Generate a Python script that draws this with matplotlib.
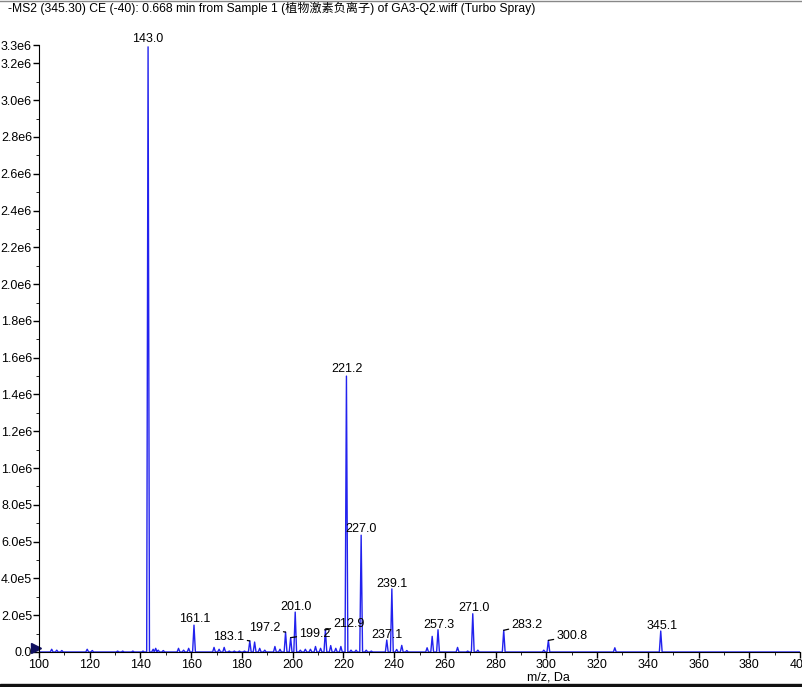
import numpy as np
import matplotlib.pyplot as plt
from matplotlib.ticker import FixedLocator, MultipleLocator, FuncFormatter

plt.rcParams['font.family'] = ['Liberation Sans', 'Noto Sans CJK SC', 'DejaVu Sans']

# Peak list (m/z, intensity in counts)
peak_mz = [105, 107, 109, 119, 121, 131, 133, 137, 141, 143.0, 145, 146, 147, 149,
           155, 157, 159, 161.1, 169, 171, 173, 175, 177, 179, 181, 183.1, 185, 187,
           189, 193, 195, 197.2, 199.2, 201.0, 203, 205, 207, 209, 211, 212.9, 215,
           217, 219, 221.2, 223, 225, 227.0, 229, 231, 237.1, 239.1, 241, 243, 245,
           253, 255, 257.3, 265, 269, 271.0, 273, 283.2, 299, 300.8, 327, 345.1]
peak_int = [1.5e4, 1.0e4, 8e3, 1.5e4, 8e3, 5e3, 5e3, 5e3, 5e3, 3.29e6, 1.5e4, 2.0e4, 1.0e4, 8e3,
            2.0e4, 1.0e4, 2.0e4, 1.46e5, 2.5e4, 1.5e4, 2.5e4, 5e3, 5e3, 5e3, 5e3, 6.0e4, 5.4e4, 2.0e4,
            1.0e4, 3.0e4, 1.5e4, 1.08e5, 7.8e4, 2.17e5, 1.0e4, 1.5e4, 1.5e4, 3.0e4, 2.0e4, 1.2e5, 3.5e4,
            2.0e4, 3.0e4, 1.50e6, 1.0e4, 1.0e4, 6.35e5, 1.0e4, 5e3, 6.5e4, 3.43e5, 1.4e4, 3.6e4, 8e3,
            2.3e4, 8.5e4, 1.21e5, 2.5e4, 5e3, 2.08e5, 1.0e4, 1.18e5, 1.0e4, 6.3e4, 2.3e4, 1.14e5]

# Labelled peaks: text, peak m/z, peak top, label position (pixels), leader line?
labels = ["143.0", "221.2", "227.0", "239.1", "161.1", "201.0", "271.0", "257.3", "345.1",
          "237.1", "183.1", "197.2", "199.2", "212.9", "283.2", "300.8"]
label_x = [143.0, 221.2, 227.0, 239.1, 161.1, 201.0, 271.0, 257.3, 345.1,
           237.1, 183.1, 197.2, 199.2, 212.9, 283.2, 300.8]
label_y = [3.29e6, 1.50e6, 6.35e5, 3.43e5, 1.46e5, 2.17e5, 2.08e5, 1.21e5, 1.14e5,
           6.5e4, 6.0e4, 1.08e5, 7.8e4, 1.2e5, 1.18e5, 6.3e4]
text_px = [(148, 38), (347, 368), (361, 529), (392, 584), (195, 619), (296, 607), (474, 608),
           (439, 625), (662, 626), (387, 635), (229, 637), (265, 628), (315, 634), (349, 624),
           (527, 625), (572, 636)]
leader = [False] * 10 + [True] * 6

W, H = 803, 687
X0, X1 = 39, 800
fig = plt.figure(figsize=(W / 100, H / 100), dpi=100)
ax = fig.add_axes([X0 / W, 35 / H, (X1 - X0) / W, (652 - 45) / H])

# draw peaks as a thin profile
xs, ys = [100], [0]
for m, v in zip(peak_mz, peak_int):
    xs += [m - 0.55, m, m + 0.55]
    ys += [0, v, 0]
xs.append(400)
ys.append(0)
ax.plot(xs, ys, color='#2222ee', lw=1.0)

ax.set_xlim(100, 400)
ax.set_ylim(0, 3.3e6)
ax.spines['top'].set_visible(False)
ax.spines['right'].set_visible(False)
ax.xaxis.set_major_locator(MultipleLocator(20))
ax.xaxis.set_minor_locator(MultipleLocator(10))
yt = list(np.arange(0, 3.3e6, 2e5)) + [3.3e6]
ax.yaxis.set_major_locator(FixedLocator(yt))
ax.yaxis.set_minor_locator(MultipleLocator(1e5))


def fmt(v, pos):
    if v == 0:
        return "0.0"
    e = int(np.floor(np.log10(v)))
    return "%.1fe%d" % (v / 10 ** e, e)


ax.yaxis.set_major_formatter(FuncFormatter(fmt))
ax.tick_params(labelsize=9, length=4, width=1, pad=1)
ax.tick_params(which='minor', length=2.5)


def px2data(px, py):
    return 100 + (px - X0) * 300 / (X1 - X0), (652 - py) * 3.2e6 / 590


for t, mx, my, (px, py), ld in zip(labels, label_x, label_y, text_px, leader):
    tx, ty = px2data(px, py)
    if ld:
        ax.annotate(t, xy=(mx, my), xytext=(tx, ty), ha='center', va='center', fontsize=9,
                    arrowprops=dict(arrowstyle='-', color='black', lw=0.9, shrinkA=0, shrinkB=0))
    else:
        ax.text(tx, ty, t, ha='center', va='center', fontsize=9)

# small marker at the baseline on the left
ax.plot([98.7], [2.0e4], marker='>', color='#101060', ms=7, clip_on=False)

fig.text(8 / W, 1 - 8 / H, "-MS2 (345.30) CE (-40): 0.668 min from Sample 1 (植物激素负离子) of GA3-Q2.wiff (Turbo Spray)",
         ha='left', va='center', fontsize=8.7)
fig.text(548 / W, 1 - 677 / H, "m/z, Da", ha='center', va='center', fontsize=9)

fig.add_artist(plt.Line2D([0, 1], [1 - 0.5 / H, 1 - 0.5 / H], color='#888888', lw=1))
fig.add_artist(plt.Rectangle((0, 0), 1, 3 / H, color='#111111'))

fig.savefig("out.png", dpi=100)
